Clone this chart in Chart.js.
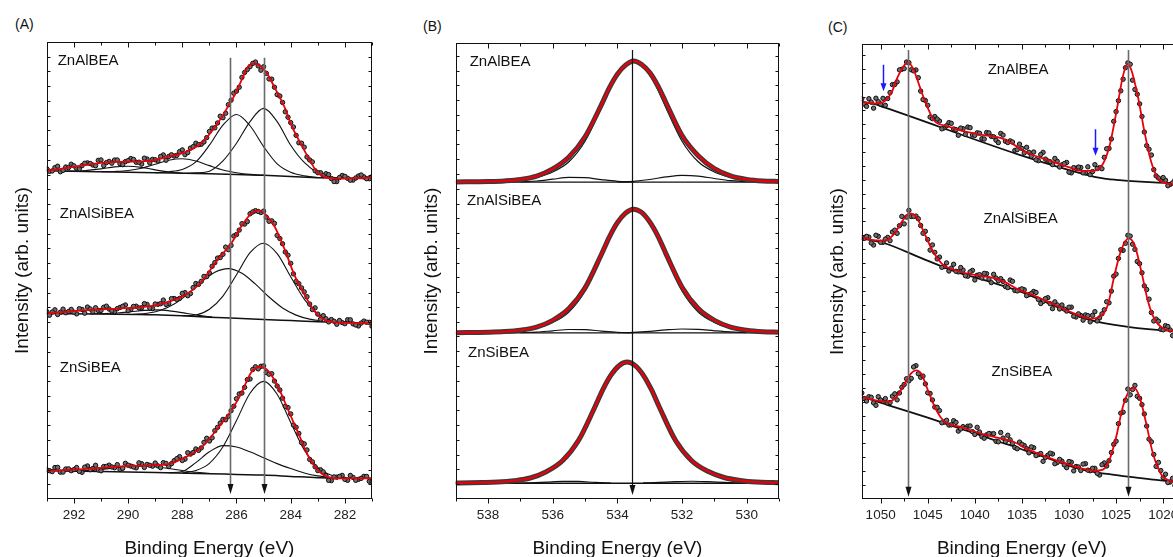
<!DOCTYPE html>
<html>
<head>
<meta charset="utf-8">
<script src="https://cdn.jsdelivr.net/npm/chart.js@4.4.0/dist/chart.umd.min.js"></script>
<style>
  html, body { margin: 0; padding: 0; background: #fff; overflow: hidden; width: 1173px; height: 557px; }
  .panel { position: absolute; top: 0; height: 560px; }
  .tag { position: absolute; font: 14px "Liberation Sans", Arial, sans-serif; color: #111; }
</style>
</head>
<body>
<div class="tag" style="left:15px;top:16px">(A)</div>
<div class="tag" style="left:423px;top:18px">(B)</div>
<div class="tag" style="left:828px;top:19px">(C)</div>
<div class="panel" style="left:0;width:390px"><canvas id="chartA" width="390" height="560"></canvas></div>
<div class="panel" style="left:390px;width:400px"><canvas id="chartB" width="400" height="560"></canvas></div>
<div class="panel" style="left:800px;width:400px"><canvas id="chartC" width="400" height="560"></canvas></div>
<script>
// ---------- Panel A : C 1s (ZnAlBEA, ZnAlSiBEA, ZnSiBEA) ----------
var eA = [293, 292.8, 292.6, 292.4, 292.2, 292, 291.8, 291.6, 291.4, 291.2, 291, 290.8, 290.6, 290.4, 290.2, 290,
  289.8, 289.6, 289.4, 289.2, 289, 288.8, 288.6, 288.4, 288.2, 288, 287.8, 287.6, 287.4, 287.2, 287, 286.8, 286.6,
  286.4, 286.2, 286, 285.8, 285.6, 285.4, 285.2, 285, 284.8, 284.6, 284.4, 284.2, 284, 283.8, 283.6, 283.4, 283.2,
  283, 282.8, 282.6, 282.4, 282.2, 282, 281.8, 281.6, 281.4, 281.2, 281];
var eAb = [292.9, 292.7, 292.5, 292.3, 292.1, 291.9, 291.7, 291.5, 291.3, 291.1, 290.9, 290.7, 290.5, 290.3, 290.1,
  289.9, 289.7, 289.5, 289.3, 289.1, 288.9, 288.7, 288.5, 288.3, 288.1, 287.9, 287.7, 287.5, 287.3, 287.1, 286.9,
  286.7, 286.5, 286.3, 286.1, 285.9, 285.7, 285.5, 285.3, 285.1, 284.9, 284.7, 284.5, 284.3, 284.1, 283.9, 283.7,
  283.5, 283.3, 283.1, 282.9, 282.7, 282.5, 282.3, 282.1, 281.9, 281.7, 281.5, 281.3, 281.1];
var dotsA1 = [336, 333.8, 338.6, 334.4, 337.2, 339, 335.8, 341.6, 341.4, 339.2, 345, 342.3, 341.7, 345, 340.2, 344.3,
  345.5, 342.7, 346.8, 342, 345.2, 348.5, 344.7, 350.2, 349.7, 355.2, 352.5, 358.5, 360.5, 363.3, 374, 377.7, 389.5,
  392.5, 405.8, 415, 429, 437, 443.2, 440.7, 439.8, 427.4, 419, 410, 394, 383, 370, 362, 348, 343, 332, 329, 330,
  323, 327.1, 328.3, 324.4, 326.6, 329.7, 325.9, 328];
var dotsA1b = [333.4, 337.2, 333, 337.8, 340.6, 336.4, 339.2, 342, 339.8, 344.6, 339.2, 343.5, 344.9, 341.1, 343.3,
  346.4, 342.6, 340.8, 345.9, 345.6, 343.9, 350.1, 348.5, 349, 353.5, 350.4, 357, 362, 360.9, 367.7, 377.4, 382.6,
  388, 401.2, 412.9, 419, 434, 440, 444.6, 436.3, 433.1, 427.2, 411.5, 403.5, 388.5, 378.5, 362.5, 358, 345, 334,
  332, 331, 326, 323, 329.2, 326.3, 324.5, 328.6, 327.8, 325.9];
var dotsA2 = [190.7, 190.2, 187.7, 193.2, 190.7, 190.1, 193.6, 189.1, 193.4, 194.6, 191.9, 196.2, 191.4, 193.7, 196.1,
  191.6, 196, 194.4, 198.8, 194.2, 198.4, 198.7, 198, 203.9, 203, 209.2, 206.8, 215.1, 218.4, 226.5, 230, 240.5,
  245.7, 256.3, 258, 269.1, 280.1, 282.3, 292.1, 292.6, 292.9, 282.6, 280.4, 265, 251.3, 239.8, 221.4, 214.8, 205.8,
  192.8, 188.1, 186.6, 180.2, 180.9, 181.6, 178.4, 182.3, 177.1, 179, 179.9, 175.7];
var dotsA2b = [187, 192.5, 190, 189.5, 192.9, 188.4, 192.9, 195.3, 190.5, 191.8, 195.1, 193.3, 190.6, 194.9, 197.4,
  192.8, 196.2, 194.6, 198, 193.8, 198.1, 202.4, 199, 204, 204.1, 210, 209, 219.3, 221.5, 226.3, 236.8, 245.1, 249,
  253.7, 267.6, 273.6, 279.7, 290.2, 293.4, 291.5, 286.8, 283, 268.2, 259.7, 248.1, 229.1, 219.1, 210.8, 198.3,
  194.5, 182.9, 183.4, 182.6, 177.8, 179.5, 182.4, 178.2, 176.1, 181, 179.8];
var dotsA3 = [29.7, 27.9, 32.2, 27.4, 30.7, 29.9, 28.1, 32.4, 29.8, 34.3, 28.7, 33.2, 32.6, 35, 31.2, 34.4, 32.6, 36.8,
  32.1, 34.3, 36.6, 31.9, 36.2, 35.9, 41.1, 39.2, 47.1, 47.3, 49.5, 57.6, 59, 69.5, 77.3, 80.6, 89.9, 102, 107.8,
  121.5, 131.8, 132.4, 135.4, 127, 120, 110.9, 94.3, 86.6, 73, 57.4, 49.9, 37.8, 28.9, 27.6, 19, 22.5, 23, 20, 24,
  19, 21, 23, 18];
var dotsA3b = [28.8, 32, 27.3, 30.5, 28.8, 32, 27.2, 33.6, 31, 29.5, 33, 34.4, 31.8, 30.1, 36.3, 33.5, 31.7, 35.9,
  35.2, 33.4, 33.7, 37, 33, 39, 43.1, 40.6, 45.7, 50.9, 52, 61.8, 62.2, 72.9, 81, 84.2, 94.4, 106.9, 113.6, 122.1,
  134.5, 135, 128.7, 127.5, 115, 102.6, 93, 75.3, 66.7, 56.1, 40.3, 32.8, 29.7, 23.8, 18.7, 22.2, 24, 19, 22, 20, 23,
  18];

var fitXA1 = [293, 292, 291, 290.4, 289.2, 288.55, 287.9, 287.3, 286.7, 286.3, 286.05, 285.8, 285.6, 285.35, 285.1,
  284.85, 284.6, 284.2, 284, 283.6, 283.2, 283, 282.4, 281];
var fitA1 = [334, 338, 342, 343, 344, 348, 353, 362, 382, 400, 412, 427, 439, 443, 440, 432, 419, 397, 382, 360, 340,
  332, 326, 327];
var fitXA2 = [293, 291.65, 290.41, 289.17, 288.55, 287.93, 287.31, 286.69, 286.19, 285.83, 285.46, 285.21, 284.96,
  284.59, 284.22, 283.85, 283.47, 283.1, 282.73, 282.36, 281];
var fitA2 = [188.7, 192, 193.7, 196.3, 200.3, 207, 220.3, 243.7, 260.3, 277, 290.3, 293.7, 290.3, 277, 253.7, 227,
  207, 190.3, 182, 179.7, 178.7];
var fitXA3 = [293, 291.65, 290.41, 289.17, 288.55, 287.93, 287.31, 286.69, 286.19, 285.83, 285.46, 285.15, 284.83,
  284.46, 284.09, 283.72, 283.35, 282.97, 282.6, 282.23, 281];
var fitA3 = [28.7, 30.3, 33, 34.3, 35.3, 42, 52, 72, 90.3, 107, 128.7, 134.3, 130.3, 113.7, 90.3, 67, 43.7, 28.7, 22,
  21, 21];

// component peaks and backgrounds
var baseXA1 = [293, 291, 289, 287, 286, 285, 284, 283, 282, 281];
var baseA1 = [334, 333, 332, 331, 330.3, 329.3, 328.2, 327, 326.3, 326];
var c1XA1 = [288, 287.5, 287, 286.5, 286, 285.5, 285, 284.5, 284, 283.5, 283, 282.5, 282];
var c1A1 = [331.2, 331.8, 333.5, 344, 362, 384, 397.5, 384, 360, 342.5, 332, 327.5, 326.3];
var c2XA1 = [289, 288.5, 288, 287.5, 287, 286.5, 286, 285.5, 285, 284.5, 284, 283.5, 283];
var c2A1 = [332, 333, 335.3, 343, 360, 380.4, 391.3, 379.8, 358.6, 341, 332.5, 328.8, 327];
var c3XA1 = [291, 290.5, 290, 289.5, 289, 288.5, 288, 287.5, 287, 286.5, 286, 285.5, 285];
var c3A1 = [333, 333.3, 334.2, 336.6, 340.6, 344.7, 346.2, 343.9, 339.2, 334.7, 332, 330.3, 329.5];
var c4XA1 = [292.5, 292, 291.5, 291, 290.5, 290, 289.5, 289, 288.5, 288];
var c4A1 = [333.7, 333.6, 334.4, 335.9, 337.9, 338.5, 337.4, 334.9, 332.8, 331.4];

var baseXA2 = [293, 291, 289, 288, 287, 286, 285, 284, 283, 282, 281];
var baseA2 = [188.7, 188.2, 187.5, 186.5, 185, 184, 182.7, 181.5, 180.3, 179.5, 179];
var c1XA2 = [288, 287.5, 287, 286.5, 286, 285.5, 285, 284.5, 284, 283.5, 283, 282.5, 282];
var c1A2 = [186.5, 187.2, 193, 206.5, 228.1, 250.6, 260.3, 249.6, 226.1, 203.3, 188.5, 181.9, 179.9];
var c2XA2 = [289.8, 289.3, 288.8, 288.3, 287.8, 287.3, 286.8, 286.3, 285.8, 285.3, 284.8, 284.3, 283.8, 283.3, 282.8];
var c2A2 = [188, 189, 192.1, 198.4, 208.5, 220.6, 230.7, 234.4, 229.7, 218.6, 205.5, 194.4, 187.1, 183, 181];
var c3XA2 = [291.4, 290.9, 290.4, 289.9, 289.4, 288.9, 288.4, 287.9, 287.4, 286.9];
var c3A2 = [188.4, 188.6, 189.2, 190.5, 191.9, 192.4, 191.2, 189.1, 186.8, 185.3];

var baseXA3 = [293, 291, 289, 287, 286, 285, 284, 283, 282, 281];
var baseA3 = [28.7, 28, 27, 25.8, 25, 24.3, 23, 21.7, 21, 21];
var c1XA3 = [288, 287.5, 287, 286.5, 286, 285.5, 285, 284.5, 284, 283.5, 283, 282.5, 282];
var c1A3 = [26.4, 29, 36.3, 53.1, 79.9, 107.6, 119.7, 106.6, 77.9, 50, 32.2, 24.2, 21.7];
var c2XA3 = [288.5, 288, 287.5, 287, 286.5, 286, 285.5, 285, 284.5, 284, 283.5, 283, 282.5, 282];
var c2A3 = [26.7, 28, 37, 48, 54.3, 53, 48, 42, 36, 31, 26.5, 23.5, 22, 21.2];
var c3XA3 = [292, 291.5, 291, 290.5, 290, 289.5, 289, 288.5, 288, 287.5, 287];
var c3A3 = [28.4, 28.9, 30, 31.7, 33, 33.3, 32.8, 31, 29, 27.2, 26.2];

// ---------- Panel B : O 1s ----------
var gB = [539, 538, 537.5, 537, 536.5, 536, 535.5, 535, 534.5, 534.25, 534, 533.75, 533.5, 533.25, 533, 532.75,
  532.5, 532, 531.5, 531, 530.5, 530, 529.5, 529];
var fitB1 = [321.9, 322.4, 323, 324.4, 327.8, 335.1, 347.2, 367.8, 399.9, 417.4, 431.4, 440.5, 444.8, 441.2, 433,
  419.6, 402.6, 369.1, 348.6, 335.5, 328.1, 324.5, 322.9, 322.4];
var mainB1 = [321.9, 322.4, 322.9, 324.1, 326.6, 332.1, 342.4, 363.2, 397.3, 415.6, 430.3, 440, 443.7, 440, 430.3,
  415.6, 397.3, 363.2, 342.4, 332.1, 326.6, 324.1, 322.9, 322.4];
var fitB2 = [168.9, 169.4, 170, 171.4, 174.5, 181.4, 193.3, 214.4, 248, 266, 280.6, 290.3, 294.3, 291, 281.4, 267.2,
  249.2, 215.1, 193.4, 181.4, 174.6, 171.4, 169.9, 169.4];
var mainB2 = [168.9, 169.4, 169.9, 171.2, 173.7, 179.3, 189.9, 211.2, 246.2, 264.9, 279.9, 290, 293.7, 290, 279.9,
  264.9, 246.2, 211.2, 189.9, 179.3, 173.7, 171.2, 169.9, 169.4];
var gB3 = [539.2, 538.2, 537.7, 537.2, 536.7, 536.2, 535.7, 535.2, 534.7, 534.45, 534.2, 533.95, 533.7, 533.45, 533.2,
  532.95, 532.7, 532.2, 531.7, 531.2, 530.7, 530.2, 529.7, 529.2, 528.7];
var fitB3 = [16.2, 16.7, 17.2, 18.6, 21.3, 27.7, 38.8, 59.6, 93.2, 111.1, 125.7, 135.3, 139, 135.4, 125.8, 111.2,
  93.2, 59.4, 38.9, 28.1, 21.8, 18.8, 17.2, 16.7, 16.4];
var mainB3 = [16.2, 16.7, 17.2, 18.5, 20.9, 26.5, 36.9, 57.8, 92.3, 110.7, 125.5, 135.3, 139, 135.3, 125.5, 110.7,
  92.3, 57.8, 36.9, 26.5, 20.9, 18.5, 17.2, 16.7, 16.4];
var lowXB = [537, 536.5, 536, 535.5, 535, 534.5, 534, 533.5];
var lowB1 = [322, 322.9, 324.7, 326.5, 326.3, 324.3, 322.6, 321.9];
var lowB2 = [168.9, 169.5, 170.8, 172.1, 171.9, 170.5, 169.3, 168.8];
var highXB = [534, 533.5, 533, 532.5, 532, 531.5, 531, 530.5, 530];
var highB1 = [321.9, 322.6, 324.4, 327, 328.6, 327.9, 325.4, 323.2, 322.1];
var highB2 = [168.8, 169.2, 170.2, 171.7, 172.6, 172.2, 170.8, 169.6, 168.9];
var lowXB3 = [537.2, 536.7, 536.2, 535.7, 535.2, 534.7, 534.2];
var lowB3 = [16.1, 16.5, 17.2, 17.9, 17.8, 16.9, 16.2];
var highXB3 = [533.2, 532.7, 532.2, 531.7, 531.2, 530.7, 530.2];
var highB3 = [16.3, 16.9, 17.6, 18, 17.6, 16.9, 16.3];
var baseB = [321.7, 168.7, 16];

// ---------- Panel C : Zn 2p ----------
var eC = [1052, 1051.5, 1051, 1050.5, 1050, 1049.5, 1049, 1048.5, 1048, 1047.5, 1047, 1046.5, 1046, 1045.5, 1045,
  1044.5, 1044, 1043.5, 1043, 1042.5, 1042, 1041.5, 1041, 1040.5, 1040, 1039.5, 1039, 1038.5, 1038, 1037.5, 1037,
  1036.5, 1036, 1035.5, 1035, 1034.5, 1034, 1033.5, 1033, 1032.5, 1032, 1031.5, 1031, 1030.5, 1030, 1029.5, 1029,
  1028.5, 1028, 1027.5, 1027, 1026.5, 1026, 1025.5, 1025, 1024.5, 1024, 1023.5, 1023, 1022.5, 1022, 1021.5, 1021,
  1020.5, 1020, 1019.5, 1019, 1018.5, 1018];
var eCb = [1051.75, 1051.25, 1050.75, 1050.25, 1049.75, 1049.25, 1048.75, 1048.25, 1047.75, 1047.25, 1046.75,
  1046.25, 1045.75, 1045.25, 1044.75, 1044.25, 1043.75, 1043.25, 1042.75, 1042.25, 1041.75, 1041.25, 1040.75,
  1040.25, 1039.75, 1039.25, 1038.75, 1038.25, 1037.75, 1037.25, 1036.75, 1036.25, 1035.75, 1035.25, 1034.75,
  1034.25, 1033.75, 1033.25, 1032.75, 1032.25, 1031.75, 1031.25, 1030.75, 1030.25, 1029.75, 1029.25, 1028.75,
  1028.25, 1027.75, 1027.25, 1026.75, 1026.25, 1025.75, 1025.25, 1024.75, 1024.25, 1023.75, 1023.25, 1022.75,
  1022.25, 1021.75, 1021.25, 1020.75, 1020.25, 1019.75, 1019.25, 1018.75, 1018.25];
var dotsC1 = [403.7, 396.1, 400.4, 404.3, 398.4, 397.2, 410, 418.2, 432.9, 434.2, 440.2, 431.9, 425, 403, 397.2,
  383.7, 383.3, 373.4, 376.5, 379, 372.6, 374.2, 367.8, 374.6, 366.8, 369, 363.1, 369.3, 365.4, 359.5, 367.1, 359.6,
  360.1, 352.4, 353.6, 354.8, 345.8, 342.2, 347.5, 342.9, 340.2, 343.6, 334.9, 338.3, 329.7, 334.3, 334.9, 329, 335.1,
  330.3, 333.4, 333.2, 353.3, 363.2, 390.8, 411.8, 435.1, 438.6, 413.1, 398.6, 370.2, 352.8, 332.3, 323.8, 324.3, 316,
  318.9, 313.7, 319.5];
var dotsC1b = [398.4, 403.8, 394.3, 400.8, 404.2, 404, 418, 420.8, 433.5, 440.8, 433, 432.8, 411.5, 402, 385.3, 385.8,
  381.3, 374.4, 379.7, 373.3, 366.9, 373.5, 375.2, 367.2, 369.4, 363.5, 369.7, 365.8, 362, 368.8, 360.9, 361.3, 351.7,
  358, 349.2, 349.8, 350, 341.3, 349.7, 341, 337.4, 340.7, 337.1, 339.5, 329, 333.6, 334.4, 329, 327.2, 337.3, 334.3,
  344.7, 353.7, 381, 401.8, 423.5, 440, 422.5, 408.3, 385.9, 356.5, 347, 326, 322, 321.6, 317.4, 321.8, 315.6];
var dotsC2 = [263.7, 265, 258.3, 266.1, 258.9, 262.2, 260.6, 271.2, 275.7, 277.5, 291.2, 285.1, 282.7, 268.1, 261.8,
  256.3, 242.2, 233.7, 238.2, 232.8, 229.7, 233.5, 225.3, 229.1, 221, 226.3, 227.6, 221.9, 226.7, 220.1, 219.5, 213.2,
  219.6, 209.9, 212, 205.1, 207.3, 208.4, 197.2, 202.1, 197, 198.9, 191.7, 191.6, 193.5, 184.4, 186.8, 180.4, 185,
  185.3, 179.6, 186.8, 199, 209.7, 226.9, 251.5, 258, 265.2, 251.8, 237.4, 215, 201.6, 179.6, 179.4, 170.7, 174, 164.9,
  169.5, 173.2];
var dotsC2b = [262.9, 264.2, 256.2, 265, 259, 263.9, 269.4, 268, 285.1, 284.4, 285, 285.4, 275.9, 270, 251.1, 248.8,
  244, 234.5, 230, 236.8, 229.1, 230.9, 224.7, 230.6, 225.7, 223, 227.3, 218.3, 222.9, 222.3, 214.4, 220.9, 210.3,
  211, 211.1, 206.2, 209.4, 201.3, 199.2, 203.1, 192, 195.8, 195.7, 189.6, 193.5, 183.6, 185.1, 185.7, 178.7, 189,
  182.7, 190.9, 197.9, 224.8, 242.7, 250.8, 266, 257, 239.6, 228.2, 211.3, 188.1, 181.5, 171.1, 174.9, 170.5, 166.7,
  174.4];
var dotsC3 = [107, 98.8, 102.6, 94.5, 99.9, 101.3, 97.3, 106.1, 107, 115.5, 119.1, 133.2, 126.4, 124, 107.2, 99.9,
  92.5, 76.9, 79.4, 74.8, 77.3, 70.7, 71.2, 73.7, 65.1, 67.6, 61.3, 66.1, 65.9, 57.7, 61.5, 64.3, 56.1, 50.7, 55.2,
  50.7, 52.6, 43.8, 45.9, 42, 46.2, 35.6, 40, 34.4, 37.8, 28.4, 32.3, 35.2, 29.1, 31, 25.9, 34.6, 33.3, 46.9, 58.3,
  86.6, 99.6, 105.1, 114.6, 101.6, 85.8, 60.4, 44.9, 36.9, 21.5, 16.6, 20.8, 17.1, 15.5];
var dotsC3b = [101.4, 103.2, 97, 103.2, 98.6, 96.8, 103.7, 100, 112.7, 121.3, 121.6, 134.5, 122.8, 116.1, 106.5,
  92.7, 89.2, 77.6, 74.6, 79, 68.5, 73, 73.4, 67.9, 72.3, 62.9, 64.7, 65.5, 58.3, 67.1, 57.9, 59.7, 51.9, 57.4, 53.9,
  46.6, 51.7, 44.8, 38, 44.1, 45.4, 36.8, 38.2, 31.6, 37.1, 32.8, 28.7, 35.6, 28.5, 30.9, 24.2, 36.4, 38.6, 55.1, 76,
  87.6, 110.9, 110.5, 103.6, 95.2, 73.6, 57.7, 32.9, 28.7, 25, 17.2, 13.5, 21.8];

var fitXC1 = [1052, 1050.64, 1049.58, 1048.86, 1048.16, 1047.45, 1047.1, 1046.57, 1045.86, 1045.15, 1044.27, 1042.86,
  1040.73, 1038.61, 1037.19, 1035.78, 1034.36, 1032.24, 1030.12, 1028.69, 1027.28, 1026.4, 1025.69, 1024.98, 1024.28,
  1023.81, 1023.39, 1022.69, 1021.97, 1021.26, 1020.38, 1019.14, 1018];
var fitC1 = [400.7, 399, 401.3, 409.7, 426.3, 438, 440.3, 434.7, 416.3, 398, 381.3, 376, 370, 366.5, 364, 357, 349,
  342, 335, 331, 331.3, 338, 356.3, 389.7, 426.3, 439, 433, 406.3, 369.7, 339.7, 321.3, 318, 317.5];
var fitXC2 = [1052, 1050.99, 1049.58, 1048.51, 1047.63, 1046.92, 1046.21, 1045.51, 1044.62, 1043.56, 1042.14, 1040.02,
  1038.25, 1036.84, 1035.42, 1033.65, 1031.53, 1029.41, 1027.63, 1026.57, 1025.86, 1025.16, 1024.45, 1023.67, 1023.04,
  1022.32, 1021.62, 1020.91, 1019.85, 1018.97, 1018];
var fitC2 = [264.7, 261.3, 260.7, 268, 281.3, 288, 284.7, 271.3, 253, 238, 231, 226, 223.5, 219, 211.5, 205, 196, 187,
  182, 184.7, 196.3, 226.3, 251.3, 263, 256.3, 229.7, 199.7, 181.3, 171.3, 169.8, 169.2];
var fitXC3 = [1052, 1050.64, 1049.23, 1048.33, 1047.45, 1046.74, 1046.21, 1045.68, 1044.98, 1044.09, 1043.21, 1041.43,
  1039.31, 1037.19, 1035.96, 1034.36, 1032.24, 1029.76, 1027.28, 1026.4, 1025.69, 1024.98, 1024.28, 1023.57, 1023.11,
  1022.51, 1021.8, 1021.1, 1020.2, 1018.97, 1018];
var fitC3 = [103, 99.7, 98, 103, 116.3, 127, 129.7, 126.3, 109.7, 89.7, 78, 72.5, 66, 61, 58, 50, 42, 34, 28.5, 29.7,
  39.7, 63, 93, 109.7, 112.3, 103, 76.3, 46.3, 24.7, 17.6, 16.5];
var baseXC1 = [1052, 1050.5, 1049.6, 1027.3, 1026, 1025, 1023.75, 1021, 1018];
var baseC1 = [400.7, 398, 395, 325, 323, 322, 321, 319.5, 318.5];
var baseXC2 = [1052, 1049.58, 1045.68, 1042.14, 1038.61, 1035.07, 1031.53, 1028, 1023.75, 1018.97, 1018];
var baseC2 = [263, 258, 243, 229.7, 219.7, 209, 194.7, 181.3, 173.7, 169.7, 169.5];
var baseXC3 = [1052, 1050.6, 1049.23, 1045, 1042, 1039.3, 1037.2, 1036, 1034.4, 1032.2, 1029.8, 1027.3, 1025.7,
  1023.75, 1021, 1018];
var baseC3 = [103, 99, 94.7, 82, 72.5, 64, 57, 53.5, 48, 41, 33, 27, 25, 22.5, 19.5, 16.5];

var samples = ['ZnAlBEA', 'ZnAlSiBEA', 'ZnSiBEA'];

Chart.defaults.font.family = '"Liberation Sans", Arial, sans-serif';
Chart.defaults.color = '#222';

function pts(xs, ys) {
  return xs.map(function(x, i) { return { x: x, y: ys[i] }; });
}

function curve(xs, ys, color, width) {
  return {
    data: pts(xs, ys),
    showLine: true,
    borderColor: color,
    borderWidth: width,
    pointRadius: 0,
    cubicInterpolationMode: 'monotone',
    fill: false
  };
}

function dots(xs, ys) {
  return {
    data: pts(xs, ys),
    showLine: false,
    pointRadius: 2.2,
    pointBackgroundColor: '#6e6e6e',
    pointBorderColor: '#0d0d0d',
    pointBorderWidth: 1
  };
}

// frame, inner ticks, marker arrows and sample names
var decor = {
  id: 'decor',
  afterDatasetsDraw: function(chart, args, opts) {
    var ctx = chart.ctx, a = chart.chartArea, xs = chart.scales.x, ys = chart.scales.y;
    ctx.save();
    ctx.beginPath();
    ctx.rect(a.left, a.top, a.right - a.left, a.bottom - a.top);
    ctx.clip();

    (opts.arrows || []).forEach(function(ar) {
      var px = Math.round(xs.getPixelForValue(ar.x)) + 0.5;
      var top = ys.getPixelForValue(ar.top), tip = ys.getPixelForValue(ar.tip);
      ctx.strokeStyle = ar.color;
      ctx.lineWidth = ar.width;
      ctx.beginPath();
      ctx.moveTo(px, top);
      ctx.lineTo(px, tip - 6);
      ctx.stroke();
      ctx.fillStyle = ar.head;
      ctx.beginPath();
      ctx.moveTo(px - ar.half, tip - ar.len);
      ctx.lineTo(px + ar.half, tip - ar.len);
      ctx.lineTo(px, tip);
      ctx.closePath();
      ctx.fill();
    });

    ctx.fillStyle = '#111';
    ctx.font = '15px "Liberation Sans", Arial, sans-serif';
    ctx.textBaseline = 'middle';
    (opts.labels || []).forEach(function(lb) {
      ctx.textAlign = lb.align;
      ctx.fillText(lb.text, xs.getPixelForValue(lb.x), ys.getPixelForValue(lb.y));
    });
    ctx.restore();

    // frame and ticks
    ctx.save();
    ctx.strokeStyle = '#111';
    ctx.lineWidth = 1;
    var L = Math.round(a.left) + 0.5, R = Math.round(a.right) - 0.5;
    var T = Math.round(a.top) + 0.5, B = Math.round(a.bottom) - 0.5;
    ctx.beginPath();
    var lo = Math.min(xs.min, xs.max), hi = Math.max(xs.min, xs.max);
    var start = Math.ceil(lo / opts.minor - 1e-9) * opts.minor;
    for (var v = start; v <= hi + 1e-9; v += opts.minor) {
      var px = Math.round(xs.getPixelForValue(v)) + 0.5;
      var r = v / opts.major;
      var len = Math.abs(r - Math.round(r)) < 1e-6 ? 5 : 3;
      ctx.moveTo(px, B); ctx.lineTo(px, B + len);
      ctx.moveTo(px, T); ctx.lineTo(px, T + len);
    }
    for (var w = ys.min + opts.yStep; w < ys.max; w += opts.yStep) {
      var py = Math.round(ys.getPixelForValue(w)) + 0.5;
      ctx.moveTo(L, py); ctx.lineTo(L + 3, py);
      ctx.moveTo(R, py); ctx.lineTo(R - 3, py);
    }
    ctx.stroke();
    ctx.strokeRect(L, T, R - L, B - T);
    ctx.restore();
  }
};

function makeChart(id, datasets, xr, yMax, pad, tickDef, decorOpts) {
  return new Chart(document.getElementById(id), {
    type: 'scatter',
    data: { datasets: datasets },
    options: {
      responsive: false,
      animation: false,
      events: [],
      layout: { padding: pad },
      scales: {
        x: {
          type: 'linear',
          reverse: true,
          min: xr[1],
          max: xr[0],
          grid: { display: false, drawTicks: false },
          border: { display: false },
          ticks: {
            stepSize: tickDef.step,
            includeBounds: false,
            padding: 8,
            autoSkip: false,
            maxRotation: 0,
            font: { size: 13.5 },
            color: '#222',
            callback: function(value) {
              return Math.abs(value % tickDef.label) < 1e-6 ? value : '';
            }
          },
          title: {
            display: true,
            text: 'Binding Energy (eV)',
            font: { size: 19 },
            color: '#111',
            padding: { top: 6, bottom: 0 }
          }
        },
        y: {
          min: 0,
          max: yMax,
          grid: { display: false, drawTicks: false },
          border: { display: false },
          ticks: { display: false },
          title: {
            display: true,
            text: 'Intensity (arb. units)',
            font: { size: 19 },
            color: '#111',
            padding: { top: 4, bottom: 13 }
          }
        }
      },
      plugins: {
        legend: { display: false },
        tooltip: { enabled: false },
        decor: decorOpts
      }
    },
    plugins: [decor]
  });
}

var red = '#e8000b';

// Panel A
makeChart('chartA', [
  curve(fitXA1, fitA1, red, 1.8),
  curve(fitXA2, fitA2, red, 1.8),
  curve(fitXA3, fitA3, red, 1.8),
  dots(eA, dotsA1),
  dots(eAb, dotsA1b),
  dots(eA, dotsA2),
  dots(eAb, dotsA2b),
  dots(eA, dotsA3),
  dots(eAb, dotsA3b),
  curve(c1XA1, c1A1, '#111', 1.1),
  curve(c2XA1, c2A1, '#111', 1.1),
  curve(c3XA1, c3A1, '#111', 1.1),
  curve(c4XA1, c4A1, '#111', 1.1),
  curve(c1XA2, c1A2, '#111', 1.1),
  curve(c2XA2, c2A2, '#111', 1.1),
  curve(c3XA2, c3A2, '#111', 1.1),
  curve(c1XA3, c1A3, '#111', 1.1),
  curve(c2XA3, c2A3, '#111', 1.1),
  curve(c3XA3, c3A3, '#111', 1.1),
  curve(baseXA1, baseA1, '#111', 1.5),
  curve(baseXA2, baseA2, '#111', 1.5),
  curve(baseXA3, baseA3, '#111', 1.5)
], [293, 281], 465, { left: 7, right: 18, top: 42, bottom: 0 }, { step: 1, label: 2 }, {
  minor: 1, major: 2, yStep: 15,
  arrows: [
    { x: 286.25, top: 449, tip: 5, color: '#6a6a6a', width: 1.6, head: '#111', half: 3, len: 10 },
    { x: 285.0, top: 449, tip: 5, color: '#6a6a6a', width: 1.6, head: '#111', half: 3, len: 10 }
  ],
  labels: [
    { text: samples[0], x: 292.6, y: 445.5, align: 'left' },
    { text: samples[1], x: 292.52, y: 290, align: 'left' },
    { text: samples[2], x: 292.52, y: 133, align: 'left' }
  ]
});

// Panel B
makeChart('chartB', [
  curve(gB, fitB1, red, 2.3),
  curve(gB, fitB2, red, 2.3),
  curve(gB3, fitB3, red, 2.3),
  curve(gB, fitB1, '#3a3a3a', 5),
  curve(gB, fitB2, '#3a3a3a', 5),
  curve(gB3, fitB3, '#3a3a3a', 5),
  curve(gB, mainB1, '#111', 1.2),
  curve(gB, mainB2, '#111', 1.2),
  curve(gB3, mainB3, '#111', 1.2),
  curve(lowXB, lowB1, '#111', 1.2),
  curve(highXB, highB1, '#111', 1.2),
  curve(lowXB, lowB2, '#111', 1.2),
  curve(highXB, highB2, '#111', 1.2),
  curve(lowXB3, lowB3, '#111', 1.2),
  curve(highXB3, highB3, '#111', 1.2),
  curve([539, 529], [baseB[0], baseB[0]], '#111', 1.3),
  curve([539, 529], [baseB[1], baseB[1]], '#111', 1.3),
  curve([539, 529], [baseB[2], baseB[2]], '#111', 1.3)
], [539, 529], 463, { left: 26, right: 11, top: 43, bottom: 0 }, { step: 1, label: 2 }, {
  minor: 1, major: 2, yStep: 15,
  arrows: [
    { x: 533.55, top: 456, tip: 4, color: '#111', width: 1.2, head: '#111', half: 3, len: 10 }
  ],
  labels: [
    { text: samples[0], x: 538.57, y: 444, align: 'left' },
    { text: samples[1], x: 538.65, y: 302.7, align: 'left' },
    { text: samples[2], x: 538.62, y: 148.7, align: 'left' }
  ]
});

// Panel C
makeChart('chartC', [
  curve(fitXC1, fitC1, red, 1.8),
  curve(fitXC2, fitC2, red, 1.8),
  curve(fitXC3, fitC3, red, 1.8),
  dots(eC, dotsC1),
  dots(eCb, dotsC1b),
  dots(eC, dotsC2),
  dots(eCb, dotsC2b),
  dots(eC, dotsC3),
  dots(eCb, dotsC3b),
  curve(baseXC1, baseC1, '#111', 1.8),
  curve(baseXC2, baseC2, '#111', 1.8),
  curve(baseXC3, baseC3, '#111', 1.8)
], [1052, 1018], 459, { left: 22, right: 18, top: 44, bottom: 0 }, { step: 2.5, label: 5 }, {
  minor: 2.5, major: 5, yStep: 14,
  arrows: [
    { x: 1047.1, top: 453, tip: 2.3, color: '#6a6a6a', width: 1.6, head: '#111', half: 3, len: 10 },
    { x: 1023.75, top: 453, tip: 2.3, color: '#6a6a6a', width: 1.6, head: '#111', half: 3, len: 10 },
    { x: 1049.75, top: 438, tip: 411.3, color: '#1a1aff', width: 1.5, head: '#1a1aff', half: 3, len: 8 },
    { x: 1027.2, top: 373, tip: 346.3, color: '#1a1aff', width: 1.5, head: '#1a1aff', half: 3, len: 8 }
  ],
  labels: [
    { text: samples[0], x: 1035.4, y: 433, align: 'center' },
    { text: samples[1], x: 1035.14, y: 283, align: 'center' },
    { text: samples[2], x: 1035.0, y: 128.7, align: 'center' }
  ]
});
</script>
</body>
</html>
